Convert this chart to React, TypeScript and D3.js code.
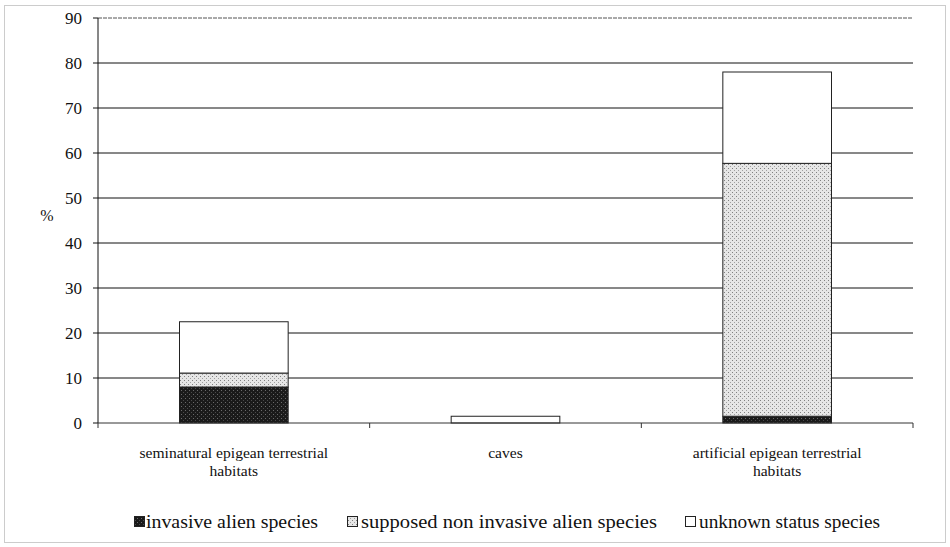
import React from "react";
import * as d3 from "d3";

const categories = [
  ["seminatural epigean terrestrial", "habitats"],
  ["caves"],
  ["artificial epigean terrestrial", "habitats"],
];
const seriesNames = [
  "invasive alien species",
  "supposed non invasive alien species",
  "unknown status species",
];
const invasive = [8.0, 0, 1.5];
const supposed = [3.1, 0, 56.2];
const unknown = [11.4, 1.5, 20.3];
const yTicks = [0, 10, 20, 30, 40, 50, 60, 70, 80, 90];

export default function App() {
  const W = 950, H = 547;
  const left = 98, right = 913, top = 18, bottom = 423;
  const x = d3.scaleBand<number>().domain([0, 1, 2]).range([left, right]).paddingInner(0).paddingOuter(0);
  const y = d3.scaleLinear().domain([0, 90]).range([bottom, top]);
  const barW = x.bandwidth() * 0.4;
  const rows = categories.map((_, i) => ({ i, invasive: invasive[i], supposed: supposed[i], unknown: unknown[i] }));
  const stack = d3.stack<any>().keys(["invasive", "supposed", "unknown"])(rows);
  const fills = ["url(#darkPat)", "url(#lightPat)", "#ffffff"];
  const font = "Liberation Serif, DejaVu Serif, serif";

  const legendItems = [
    { x: 134, tx: 146, w: 172, label: seriesNames[0], fill: fills[0] },
    { x: 347, tx: 361, w: 296, label: seriesNames[1], fill: fills[1] },
    { x: 685, tx: 699, w: 181, label: seriesNames[2], fill: fills[2] },
  ];

  return (
    <svg width={W} height={H} style={{ position: "absolute", left: 0, top: 0, fontFamily: font }}>
      <defs>
        <pattern id="darkPat" width="4" height="4" patternUnits="userSpaceOnUse">
          <rect width="4" height="4" fill="#1a1a1a" />
          <rect x="1" y="2" width="1" height="1" fill="#6a6a6a" />
          <rect x="3" y="0" width="1" height="1" fill="#4a4a4a" />
        </pattern>
        <pattern id="lightPat" width="4" height="4" patternUnits="userSpaceOnUse">
          <rect width="4" height="4" fill="#e6e6e6" />
          <rect x="0" y="0" width="1" height="1" fill="#808080" />
          <rect x="2" y="2" width="1" height="1" fill="#a0a0a0" />
        </pattern>
      </defs>
      <rect x={4.5} y={5.5} width={941} height={537} fill="#fff" stroke="#999" strokeDasharray="1,1" />
      {yTicks.map((t) => (
        <g key={t}>
          {t > 0 && (
            <line x1={left} x2={right} y1={y(t)} y2={y(t)}
              stroke={t === 90 ? "#555" : "#111"} strokeWidth={1}
              strokeDasharray={t === 90 ? "4,1" : undefined} />
          )}
          <line x1={left - 5} x2={left} y1={y(t)} y2={y(t)} stroke="#111" />
          <text x={82} y={y(t)} dy="0.35em" textAnchor="end" fontSize={17} fill="#111" style={{ fontFamily: font }}>{t}</text>
        </g>
      ))}
      {stack.map((s, si) =>
        s.map((d, i) => {
          const h = y(d[0]) - y(d[1]);
          if (h <= 0) return null;
          const bx = x(i)! + (x.bandwidth() - barW) / 2;
          return (
            <rect key={si + "-" + i} x={bx} y={y(d[1])} width={barW} height={h}
              fill={fills[si]} stroke="#222" strokeWidth={1} />
          );
        })
      )}
      <line x1={left} x2={left} y1={top} y2={bottom} stroke="#111" />
      <line x1={left} x2={right} y1={bottom} y2={bottom} stroke="#333" />
      {[0, 1, 2, 3].map((k) => {
        const xx = k < 3 ? x(k)! : right;
        return <line key={k} x1={xx} x2={xx} y1={bottom} y2={bottom + 5} stroke="#333" />;
      })}
      {categories.map((lines, i) => (
        <text key={i} x={x(i)! + x.bandwidth() / 2} y={458} textAnchor="middle" fontSize={15.6} fill="#111" style={{ fontFamily: font }}>
          {lines.map((l, li) => (
            <tspan key={li} x={x(i)! + x.bandwidth() / 2} dy={li === 0 ? 0 : 18}>{l}</tspan>
          ))}
        </text>
      ))}
      <text x={47} y={221} textAnchor="middle" fontSize={16} fill="#111" style={{ fontFamily: font }}>%</text>
      {legendItems.map((it, i) => (
        <g key={i}>
          <rect x={it.x + 0.5} y={516.5} width={10} height={10} fill={it.fill} stroke="#222" />
          <text x={it.tx} y={528} fontSize={18} fill="#111" textLength={it.w} lengthAdjust="spacingAndGlyphs" style={{ fontFamily: font }}>{it.label}</text>
        </g>
      ))}
    </svg>
  );
}
